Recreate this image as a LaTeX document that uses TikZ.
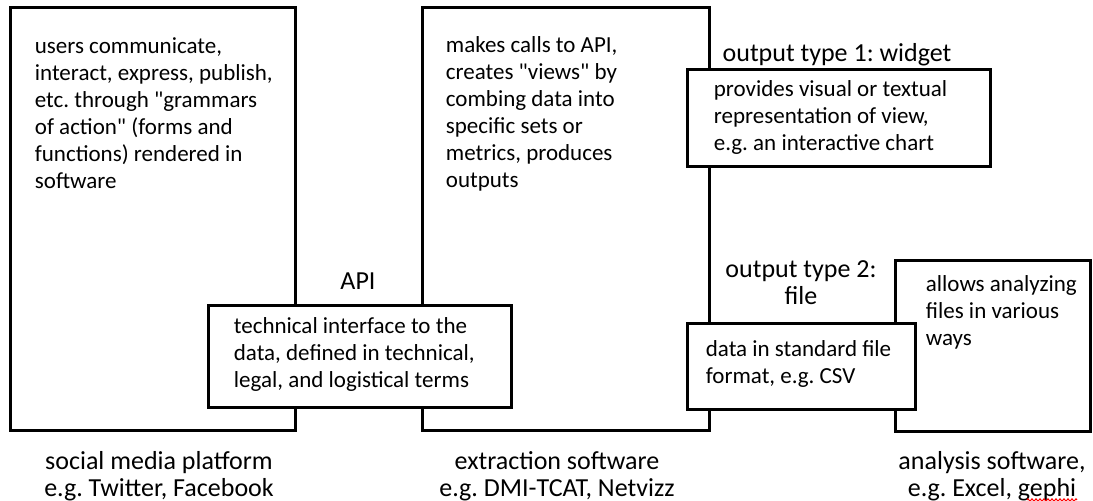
\documentclass[tikz,border=0pt]{standalone}
\usepackage{fontspec}
\setmainfont{Carlito}
\usetikzlibrary{positioning,decorations.pathmorphing}
\frenchspacing
\tikzset{
  box/.style={draw, line width=1.5pt, fill=white, inner sep=0pt},
  % base anchor of a multi-line node = baseline of its last line
  txt/.style={font=\fontsize{11.5}{13.5}\selectfont, align=left, inner sep=0pt, anchor=base west},
  lbl/.style={font=\fontsize{13}{13.5}\selectfont, align=center, inner sep=0pt, anchor=base},
}
\begin{document}
\begin{tikzpicture}[x=0.5pt, y=-0.5pt]
  \useasboundingbox (0,0) rectangle (1093,501);
  % big boxes
  \node[box, minimum width=142.5pt, minimum height=211.5pt] (platform) at (152.5,219.5) {};
  \node[box, minimum width=143.5pt, minimum height=211.5pt] (extraction) at (565.5,219.5) {};
  % inner boxes on top
  \node[box, minimum width=151.5pt, minimum height=51pt] (api) at (359.5,357) {};
  \node[box, minimum width=151.5pt, minimum height=48.5pt] (widget) at (838.5,118.5) {};
  \node[box, minimum width=97.5pt, minimum height=85.5pt] (analysis) at (992.5,346.5) {};
  \node[box, minimum width=114pt, minimum height=43pt] (file) at (801,367) {};
  % box texts
  \node[txt] (platformtxt) at ([shift={(26,182)}]platform.north west)
    {users communicate,\\interact, express, publish,\\etc. through \textquotedbl grammars\\of action\textquotedbl{} (forms and\\functions) rendered in\\software};
  \node[txt] (extractiontxt) at ([shift={(25,181)}]extraction.north west)
    {makes calls to API,\\creates \textquotedbl views\textquotedbl{} by\\combing data into\\specific sets or\\metrics, produces\\outputs};
  \node[txt] (apitxt) at ([shift={(27,83)}]api.north west)
    {technical interface to the\\data, defined in technical,\\legal, and logistical terms};
  \node[txt] (widgettxt) at ([shift={(28,82)}]widget.north west)
    {provides visual or textual\\representation of view,\\e.g. an interactive chart};
  \node[txt] (filetxt) at ([shift={(20,61)}]file.north west)
    {data in standard file\\format, e.g. CSV};
  \node[txt] (analysistxt) at ([shift={(32,86)}]analysis.north west)
    {allows analyzing\\files in various\\ways};
  % labels
  \node[lbl] (apilbl) at (358,290) {API};
  \node[lbl] (widgetlbl) at (837,62) {output type 1: widget};
  \node[lbl] (filelbl) at (801,305) {output type 2:\\file};
  \node[lbl] (platformlbl) at (159,497) {social media platform\\e.g. Twitter, Facebook};
  \node[lbl] (extractionlbl) at (557,497) {extraction software\\e.g. DMI-TCAT, Netvizz};
  \node[lbl] (analysislbl) at (992,497) {analysis software,\\e.g. Excel, gephi};
  % spell-check squiggle
  \draw[red, line width=0.5pt, decorate, decoration={zigzag, amplitude=0.6pt, segment length=2pt}]
    ([shift={(35,3)}]analysislbl.base) -- ([shift={(85,3)}]analysislbl.base);
\end{tikzpicture}
\end{document}
